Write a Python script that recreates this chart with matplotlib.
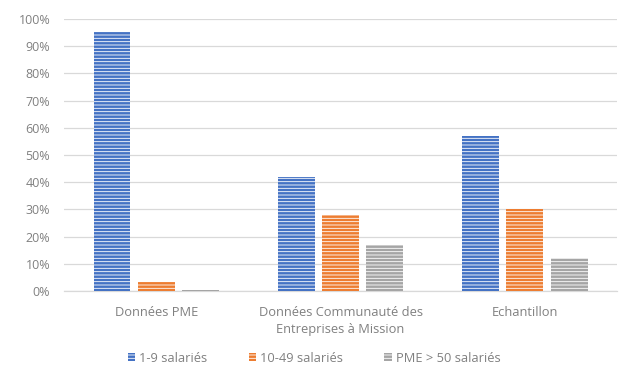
import matplotlib
matplotlib.use("Agg")
import matplotlib.pyplot as plt
import numpy as np

categories = ["Données PME", "Données Communauté des\nEntreprises à Mission", "Echantillon"]
series_names = ["1-9 salariés", "10-49 salariés", "PME > 50 salariés"]
small = [95, 42, 57]
medium = [3.5, 28, 30]
large = [0.5, 17, 12]
colors = ["#4472C4", "#ED7D31", "#A5A5A5"]
yticks = [0, 10, 20, 30, 40, 50, 60, 70, 80, 90, 100]

plt.rcParams["font.family"] = ["Open Sans", "DejaVu Sans"]
plt.rcParams["hatch.linewidth"] = 0.6

fig = plt.figure(figsize=(6.22, 3.69), dpi=100)
ax = fig.add_axes([0.103, 0.211, 0.889, 0.738])

x = np.arange(len(categories))
width = 0.2
step = 0.24
handles = []
for i, (vals, col, name) in enumerate(zip([small, medium, large], colors, series_names)):
    b = ax.bar(x + (i - 1) * step, vals, width, color=col, edgecolor="white",
               linewidth=0, hatch="-----", label=name, zorder=3)
    handles.append(b)

ax.set_xlim(-0.5, 2.5)
ax.set_ylim(0, 100)
ax.set_yticks(yticks)
ax.set_yticklabels([f"{t}%" for t in yticks])
ax.set_xticks(x)
ax.set_xticklabels(categories, linespacing=1.35)
ax.tick_params(axis="both", length=0, labelsize=9.3, colors="#808080")
ax.tick_params(axis="y", labelsize=9, pad=10)
ax.tick_params(axis="x", pad=11)
ax.grid(axis="y", color="#d9d9d9", linewidth=0.9, zorder=0)
for s in ["top", "right", "left"]:
    ax.spines[s].set_visible(False)
ax.spines["bottom"].set_color("#d9d9d9")
ax.spines["bottom"].set_linewidth(0.9)

leg = fig.legend(handles=handles, loc="lower center", bbox_to_anchor=(0.505, -0.02),
                 ncol=3, frameon=False, fontsize=9.3, handlelength=0.6,
                 handleheight=0.6, handletextpad=0.3, columnspacing=3.2)
for t in leg.get_texts():
    t.set_color("#808080")

fig.savefig("out.png", dpi=100)
